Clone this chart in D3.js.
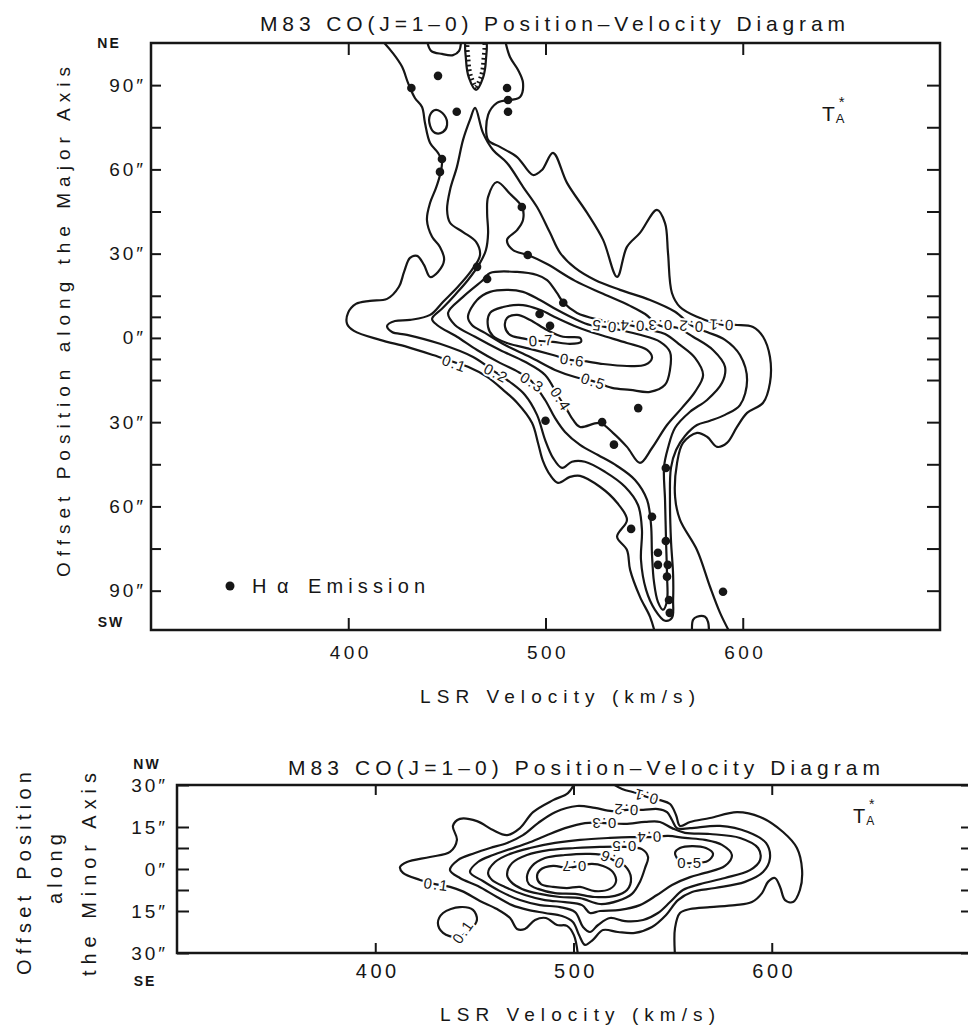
<!DOCTYPE html>
<html>
<head>
<meta charset="utf-8">
<title>M83 CO(J=1-0) Position-Velocity Diagram</title>
<script src="https://cdn.jsdelivr.net/npm/d3@7"></script>
<style>
  html, body { margin: 0; padding: 0; background: #fff; }
  svg { display: block; }
  text { font-family: "Liberation Sans", Arial, Helvetica, sans-serif; fill: #161616; }
</style>
</head>
<body>
<svg id="chart" width="968" height="1029"></svg>
<script>
(function (d3) {
    "use strict";

    // ---------- top panel: along the major axis (velocity km/s, offset arcsec) ----------
    var velTicks = [400, 500, 600],
        majorOffTicks = [90, 75, 60, 45, 30, 15, 7.5, 0, -7.5, -15, -30, -45, -60, -75, -90],
        majorOffLabels = [90, 60, 30, 0, -30, -60, -90];

    // T_A* = 0.1 contour, left / lower edge and right edge (both run off the frame)
    var major01a = [[417,106],[422.5,101.5],[427.3,96.5],[430.3,90.8],[433.8,85.4],[437.4,82.2],[438.9,76.5],[441.5,69.4],[445.5,65.9],[447.5,62.7],[446.5,58],[444.5,53.4],[441.5,48.1],[439.9,42],[442.5,36],[446.5,32.4],[448.6,27.8],[445.5,23.5],[441.5,21.7],[438.4,26],[434.9,29.2],[431.3,28.5],[428.3,23.5],[425.7,18.2],[419.7,13.9],[411,13.2],[403.9,12.1],[399.9,8.9],[399.4,5],[402.9,2.5],[416.1,-0.7],[429.8,-3.2],[443,-6.1],[453.1,-8.5],[460.7,-10.3],[470.4,-13.9],[478.5,-18.5],[485.6,-23.1],[493.2,-30.3],[496.2,-37.4],[498.7,-43.8],[502.3,-48.8],[506.3,-51.6],[512.4,-49.5],[517.5,-49.1],[527.6,-53],[536.3,-58.7],[541.3,-64.8],[536.3,-70.8],[541.3,-75.5],[542.9,-82.6],[547.9,-92.2],[553,-99.3],[555.5,-105]];
    var major01b = [[479.5,106],[482,100],[486.1,95.4],[488.6,90.8],[487.1,85.8],[475.4,83.7],[470.9,79.4],[470.9,70.5],[476.9,68],[485.6,64.4],[493.7,58],[498.2,59.8],[503.8,65.9],[510.9,55.2],[521.1,44.5],[529.2,34.9],[536.3,21.7],[541.3,32.4],[547.9,37.4],[556.5,45.6],[560.6,40.9],[562.1,30.3],[564.1,16],[568.2,11],[576.8,7.5],[590,4.6],[597.1,4.6],[605.2,3.9],[610.3,0.4],[613.8,-6.8],[613.8,-16],[610.3,-23.1],[602.2,-26.7],[597.1,-31.7],[592,-37.4],[587,-38.8],[581.9,-35.2],[576.8,-33.8],[569.7,-37.4],[566.7,-44.5],[565.7,-56.6],[568.2,-64.8],[576.8,-75.5],[583.4,-88.6],[588.5,-97.9],[593.5,-105]];
    var major01c = [[439.9,106],[442,102.2],[447.5,101.1],[453.1,100.7],[456.2,102.2],[457.2,106]];
    var major01d = [[444.5,81.2],[448.6,79.4],[450.1,75.8],[448,73.3],[444,73],[441.5,75.5],[441.5,79.4]];
    var major01e = [[574.3,-105],[574.8,-100.4],[576.8,-99.3],[580.9,-99.3],[582.4,-101.1],[582.9,-105]];
    var majorHole = [[460.2,107],[459.7,99],[461.2,92.6],[464.8,88.3],[468.3,92.6],[469.8,99],[469.3,107]];
    var major02 = [[464.3,81.9],[461.7,77.6],[458.2,70.5],[455.1,60.9],[451.6,52.7],[450.1,45.6],[451.6,41],[458.2,37.7],[464.8,34.2],[466.8,29.5],[462.7,24.2],[455.6,18.2],[448,12.8],[441.5,8.2],[431.3,6.4],[423.7,6],[419.7,4.3],[422.2,2.1],[429.8,1.1],[446.5,-2.1],[463.3,-6.8],[474.4,-12.1],[482,-15.7],[489.6,-20.3],[495.7,-27.4],[499.8,-36.3],[503.8,-42.7],[508.4,-46.3],[513.4,-44.1],[520,-44.1],[530.2,-47.7],[540.3,-53],[546.9,-59.5],[548.9,-68.4],[548.4,-79],[551,-89.7],[555.5,-96.8],[560.6,-100.7],[564.1,-99.7],[564.7,-93.3],[564.7,-84.4],[563.6,-71.9],[563.1,-57.7],[563.6,-46.3],[566.2,-39.9],[570.7,-34.9],[576.8,-31],[583.4,-29.5],[591,-27.4],[598.6,-23.9],[602.2,-15],[598.6,-6.1],[591,-0.7],[581.9,2.1],[574.3,4.3],[565.7,9.3],[553,13.5],[537.8,17.1],[525.1,20.6],[515,24.9],[507.4,30.3],[502.3,37.4],[495.7,46.6],[488.6,53.8],[480.5,62.3],[473.4,66.9],[468.3,73]];
    var major03 = [[442.5,6.8],[445,4.6],[455.1,0.4],[465.3,-4.3],[476.9,-8.9],[486.1,-12.1],[492.2,-14.9],[499.8,-22.1],[504.8,-28.5],[509.9,-33.5],[517.5,-38.1],[526.6,-41.7],[536.3,-45.6],[545.4,-50.6],[551.5,-57.7],[553.5,-66.6],[554,-77.3],[555,-86.9],[557,-94],[559.6,-96.8],[561.6,-93.6],[561.6,-84.4],[561.1,-71.9],[560.6,-57.7],[560.1,-45.9],[562.1,-39.2],[565.7,-32],[573.3,-26.3],[581.9,-22.1],[589.5,-16],[591,-10.3],[584.9,-4.3],[574.8,0.4],[566.7,3.6],[558.1,4.3],[550.5,8.5],[542.9,11.4],[529.2,15.7],[515,20.3],[500.8,26.3],[491.1,29.5],[483.5,31.3],[480.5,34.9],[485.6,38.4],[488.6,42],[488.1,46.6],[482,51.3],[475.4,55.5],[470.9,50.2],[470.4,44.5],[470.9,37.4],[469.8,31.3],[466.8,26.7],[460.7,20.6],[454.1,15.3],[448,10.7]];
    var major04 = [[450.6,8.9],[458.2,14.6],[468.3,20.6],[471.9,23.1],[485.6,23.5],[495.7,22.4],[500.8,20.6],[505.8,16],[508.9,12.8],[516,8.9],[527.6,6.4],[537.8,5],[544.4,4.3],[553,2.8],[560.6,1.4],[568.2,-2.5],[575.8,-7.1],[579.9,-13.2],[575.8,-19.2],[569.2,-24.9],[561.6,-31],[554,-39.2],[547.9,-44.5],[541.3,-38.8],[534.2,-33.8],[527.6,-30.3],[517.5,-31.7],[514,-29.2],[510.9,-25.6],[506.3,-20.6],[499.8,-13.2],[489.6,-8.5],[476.9,-4.3],[464.3,0.4],[454.1,4.6]];
    var major05 = [[460.7,7.5],[465.3,13.5],[471.9,16.4],[480.5,17.1],[488.6,16.4],[497.2,13.5],[505.8,10],[516,6.4],[522.6,4.6],[530.2,3.9],[537.8,2.8],[547.9,1.1],[558.1,-1.4],[563.1,-5],[563.1,-11.4],[560.6,-16.7],[553,-19.2],[542.9,-18.5],[533.7,-17.8],[523.6,-15.3],[515,-13.9],[504.8,-11.4],[492.2,-6.8],[479.5,-2.5],[469.3,1.8],[462.7,4.6]];
    var major06 = [[470.9,3.9],[471.9,8.9],[478.5,11],[488.6,11.7],[497.2,10],[505.8,7.1],[516,3.9],[527.6,1.1],[541.3,-1.8],[551.5,-4.3],[554,-7.1],[550.5,-9.6],[541.3,-10],[529.2,-9.3],[519,-8.2],[512.4,-7.8],[503.8,-6.1],[492.2,-3.9],[480.5,-1.8],[473.4,0.7]];
    var major07 = [[479.5,3.9],[480.5,7.1],[485.6,8.2],[492.2,6.4],[500.8,2.8],[508.9,0.4],[517.5,0],[518,-1.4],[512.4,-2.1],[503.8,-1.4],[497.2,-1.1],[487.1,0],[482,1.1]];

    // contour labels: text, velocity, offset, angle
    var majorLabels = [["0.1",453.1,-8.9,20],["0.2",474.4,-12.3,28],["0.3",492.7,-15.5,33],["0.4",507.4,-21.4,58],
        ["0.5",530.2,4.1,186],["0.4",544.4,4.3,182],["0.3",558.6,4.3,180],["0.2",574.3,4.1,184],["0.1",589.5,4.6,182],
        ["0.5",523.6,-15.3,18],["0.6",512.9,-7.8,8],["0.7",497.2,-0.9,-3]];

    // H-alpha emission positions
    var halpha = [[432,89],[445.5,93.3],[455,80.5],[480.5,89],[481,84.7],[481,80.5],[447.5,63.7],[446.5,59.1],[488,46.6],[491,29.5],[465.3,25.3],[470.4,21],[509,12.5],[497,8.5],[502.3,4.3],[500,-29.5],[547,-25],[528.7,-30],[534.7,-38],[561,-46.3],[554,-63.7],[543.4,-68],[561,-72.3],[557,-76.5],[557,-80.8],[562,-80.8],[561.6,-85],[562.6,-93.3],[563,-97.9],[590,-90.4]];

    // ---------- bottom panel: along the minor axis ----------
    var minorOffTicks = [30, 15, 7.5, 0, -7.5, -15, -30],
        minorOffLabels = [30, 15, 0, -15, -30];

    var minor01a = [[502.3,-31],[500.2,-23.6],[496.7,-20.3],[491.7,-20],[486.1,-17.5],[480.6,-18.2],[475.5,-21.4],[471.5,-21.4],[468,-17.5],[461.4,-14.3],[452.8,-11.4],[443.8,-7.9],[437.7,-6.4],[430.1,-5.4],[422.6,-3.9],[414,-1.4],[412.5,0.7],[416,2.5],[427.6,4.3],[437.7,6.1],[441.2,10.4],[439.2,15.4],[442.7,17.9],[451.3,17.1],[459.4,13.9],[466.5,12.1],[473,14.6],[479.6,20.3],[489.7,24.6],[497.2,27.1],[500.8,31]];
    var minor01b = [[518.4,31],[524.5,28.6],[532,27.1],[537.1,25.7],[543.6,24.6],[548.7,23.2],[551.7,19.3],[553.7,15.4],[558.8,16.8],[568.8,18.2],[582.5,20.3],[594.1,18.6],[605.7,13.2],[612.7,7.5],[615.3,-0.4],[614.2,-7.5],[610.7,-11.8],[606.7,-11.1],[604.2,-6.4],[601.6,-3.2],[598.1,-4.6],[595.1,-8.6],[590,-11.8],[581.5,-12.9],[568.8,-13.6],[558.8,-14.3],[553.7,-15.7],[551.2,-21.1],[551.2,-31]];
    var minor01c = [[434.2,-15.7],[442.7,-13.6],[449.3,-14.6],[451.3,-18.2],[447.8,-21.8],[441.2,-24.3],[434.2,-22.8],[431.6,-19.3]];
    var minor02 = [[437.7,-0.4],[441.7,3.2],[450.3,5.7],[457.9,7.5],[466.5,9.3],[474.5,12.1],[482.1,16.4],[490.7,20.3],[501.8,22.5],[510.8,21.8],[519.4,20.7],[527,21.1],[535.1,21.1],[542.6,21.4],[547.2,20.3],[549.7,17.5],[552.2,14.6],[558.8,14.6],[573.9,15.4],[588,13.2],[597.1,9.3],[599.1,3.9],[595.6,-1.1],[586.5,-4.6],[571.4,-6.8],[559.8,-8.2],[552.7,-11.1],[546.7,-16.4],[539.6,-20.7],[531,-22.8],[522.4,-22.5],[514.9,-21.8],[509.8,-25.3],[505.8,-27.1],[502.8,-23.6],[499.7,-18.9],[494.2,-16.8],[485.6,-15.7],[477,-14.6],[469,-12.9],[461.4,-10],[451.8,-6.1],[442.7,-3.2]];
    var minor03 = [[447.8,-1.1],[451.8,2.5],[459.4,5],[468,7.1],[477,9.3],[485.6,11.8],[495.7,14.6],[505.8,16.4],[515.9,16.4],[526,16.1],[536.1,16.8],[543.6,16.8],[549.7,14.6],[556.2,12.9],[568.8,12.5],[584,11.1],[593.1,7.5],[594.1,3.2],[589,-0.4],[576.4,-3.2],[563.8,-5.4],[555.2,-7.5],[548.7,-11.8],[542.6,-15.7],[535.1,-18.2],[526,-18.6],[518.4,-17.5],[512.4,-20],[508.3,-22.5],[504.8,-20.7],[500.8,-15.4],[493.2,-13.6],[483.1,-12.9],[473,-11.1],[462.9,-7.9],[454.3,-4.3]];
    var minor04 = [[456.9,-1.4],[460.4,2.5],[468,5.4],[478.1,7.5],[490.7,9.3],[503.3,10.4],[518.4,11.1],[528.5,11.4],[538.6,11.4],[547.7,11.8],[556.2,11.1],[566.3,10.4],[574.9,8.6],[579.9,5],[576.4,1.1],[566.3,-1.4],[558.8,-2.9],[549.7,-5.7],[542.1,-9.3],[533.5,-12.9],[523.5,-14.6],[513.4,-15],[508.3,-15.7],[504.3,-12.9],[495.7,-11.8],[485.6,-11.1],[475.5,-9.3],[465.4,-6.4],[458.9,-3.9]];
    var minor05 = [[466.5,-2.1],[469,2.1],[476.5,5],[488.1,6.8],[500.8,7.5],[513.4,7.9],[526,7.9],[534.5,7.1],[537.6,4.3],[536.1,0.4],[533.5,-4.6],[529.5,-8.9],[522.4,-11.4],[513.4,-12.5],[503.3,-10.4],[493.2,-10],[483.1,-8.9],[474,-7.1],[468.5,-4.6]];
    var minor05b = [[551.2,5.7],[553.7,7.5],[559.8,8.2],[566.8,7.5],[570.4,5.4],[567.8,2.9],[561.3,2.1],[554.2,2.5]];
    var minor06 = [[476.5,-2.9],[479.1,1.1],[485.6,3.9],[495.7,5],[508.3,5.4],[516.9,4.6],[519.9,3.2],[526,1.1],[529,-3.2],[527,-7.5],[520.9,-9.6],[510.8,-10],[500.8,-8.9],[490.7,-8.6],[482.1,-7.1],[477.5,-5.4]];
    var minor07 = [[481.6,-2.9],[483.1,-0.4],[489.7,1.1],[496.7,0.4],[503.3,1.1],[509.3,1.8],[514.9,1.1],[519.9,-1.1],[521.4,-4.6],[518.4,-7.1],[510.8,-7.9],[503.3,-6.4],[496.7,-6.8],[489.7,-6.4],[483.6,-5.4]];

    var minorLabels = [["0.1",430.1,-5.4,8],["0.1",537.1,25.7,195],["0.2",527,21.1,183],["0.3",515.9,16.4,180],
        ["0.4",538.6,11.4,178],["0.5",526,7.9,180],["0.6",519.9,3.2,205],["0.7",500.8,1.1,180],
        ["0.5",558,2.4,0],["0.1",443.8,-22.8,-55]];

    var svg = d3.select("#chart"),
        defs = svg.append("defs"),
        ink = "#161616";

    function lineFor(x, y, closed) {
        return d3.line()
            .x(function (d) { return x(d[0]); })
            .y(function (d) { return y(d[1]); })
            .curve(closed ? d3.curveCatmullRomClosed : d3.curveCatmullRom);
    }

    function styleTicks(sel) {
        sel.select(".domain").remove();
        sel.selectAll(".tick line").attr("stroke", ink).attr("stroke-width", 2);
    }

    function styleLabels(sel, size, spacing) {
        sel.select(".domain").remove();
        sel.attr("font-family", null).attr("font-size", null);
        sel.selectAll(".tick text").style("font-size", size + "px").style("letter-spacing", spacing + "px").attr("fill", ink);
    }

    function drawPanel(p) {
        var x = p.x, y = p.y,
            left = x.range()[0], right = x.range()[1],
            bottom = y.range()[0], top = y.range()[1],
            g = svg.append("g"),
            clipId = p.name + "-clip";

        defs.append("clipPath").attr("id", clipId).append("rect")
            .attr("x", left).attr("y", top).attr("width", right - left).attr("height", bottom - top);

        var plot = g.append("g").attr("clip-path", "url(#" + clipId + ")");

        p.contours.forEach(function (c) {
            plot.append("path")
                .attr("d", lineFor(x, y, c.closed)(c.pts))
                .attr("fill", "none").attr("stroke", ink)
                .attr("stroke-width", 2.2).attr("stroke-linejoin", "round");
        });

        if (p.hole) {
            var holePath = lineFor(x, y, true)(p.hole);
            defs.append("clipPath").attr("id", p.name + "-hole").append("path").attr("d", holePath);
            plot.append("path").attr("d", holePath).attr("clip-path", "url(#" + p.name + "-hole)")
                .attr("fill", "none").attr("stroke", ink).attr("stroke-width", 9).attr("stroke-dasharray", "1.8 3.2");
            plot.append("path").attr("d", holePath).attr("fill", "none").attr("stroke", ink).attr("stroke-width", 2.2);
        }

        if (p.dots) {
            plot.selectAll("circle.ha").data(p.dots).enter().append("circle")
                .attr("class", "ha")
                .attr("cx", function (d) { return x(d[0]); })
                .attr("cy", function (d) { return y(d[1]); })
                .attr("r", 4.3).attr("fill", ink);
        }

        // contour level labels, with a white halo that breaks the line
        plot.selectAll("text.lvl").data(p.labels).enter().append("text")
            .attr("class", "lvl")
            .attr("transform", function (d) { return "translate(" + x(d[1]) + "," + y(d[2]) + ") rotate(" + d[3] + ")"; })
            .attr("text-anchor", "middle").attr("dy", "0.36em").attr("dx", "0.1em")
            .style("font-size", "15px").style("letter-spacing", "1.5px")
            .attr("stroke", "#fff").attr("stroke-width", 4).attr("paint-order", "stroke")
            .text(function (d) { return d[0]; });

        // frame
        g.append("rect").attr("x", left).attr("y", top).attr("width", right - left).attr("height", bottom - top)
            .attr("fill", "none").attr("stroke", ink).attr("stroke-width", 2.5);

        // inward ticks
        g.append("g").attr("transform", "translate(" + left + ",0)")
            .call(d3.axisRight(y).tickValues(p.offTicks).tickSize(p.tickLeft).tickFormat("")).call(styleTicks);
        g.append("g").attr("transform", "translate(" + right + ",0)")
            .call(d3.axisLeft(y).tickValues(p.offTicks).tickSize(p.tickRight).tickFormat("")).call(styleTicks);
        g.append("g").attr("transform", "translate(0," + top + ")")
            .call(d3.axisBottom(x).tickValues(velTicks).tickSize(p.tickTop).tickFormat("")).call(styleTicks);
        g.append("g").attr("transform", "translate(0," + bottom + ")")
            .call(d3.axisTop(x).tickValues(velTicks).tickSize(p.tickTop).tickFormat("")).call(styleTicks);

        // tick labels
        g.append("g").attr("transform", "translate(" + left + ",0)")
            .call(d3.axisLeft(y).tickValues(p.offLabels).tickSize(0).tickPadding(p.padY)
                .tickFormat(function (d) { return Math.abs(d) + "\u2033"; }))
            .call(styleLabels, p.fontY, 3);
        g.append("g").attr("transform", "translate(0," + bottom + ")")
            .call(d3.axisBottom(x).tickValues(velTicks).tickSize(0).tickPadding(p.padX).tickFormat(d3.format("d")))
            .call(styleLabels, p.fontX, 3.5)
            .selectAll(".tick text").attr("dx", "2");
    }

    var xMajor = d3.scaleLinear().domain([300, 700]).range([151, 940]),
        yMajor = d3.scaleLinear().domain([-104, 105]).range([630, 43]),
        xMinor = d3.scaleLinear().domain([300, 700]).range([177, 970]),
        yMinor = d3.scaleLinear().domain([-30, 30]).range([953, 785]);

    drawPanel({
        name: "major", x: xMajor, y: yMajor,
        contours: [
            {pts: major01a}, {pts: major01b}, {pts: major01c}, {pts: major01d, closed: true}, {pts: major01e},
            {pts: major02, closed: true}, {pts: major03, closed: true}, {pts: major04, closed: true},
            {pts: major05, closed: true}, {pts: major06, closed: true}, {pts: major07, closed: true}
        ],
        hole: majorHole, dots: halpha, labels: majorLabels,
        offTicks: majorOffTicks, offLabels: majorOffLabels,
        tickLeft: 10, tickRight: 13, tickTop: 12, padY: 5, padX: 16, fontY: 19, fontX: 19
    });

    drawPanel({
        name: "minor", x: xMinor, y: yMinor,
        contours: [
            {pts: minor01a}, {pts: minor01b}, {pts: minor01c, closed: true},
            {pts: minor02, closed: true}, {pts: minor03, closed: true}, {pts: minor04, closed: true},
            {pts: minor05, closed: true}, {pts: minor05b, closed: true}, {pts: minor06, closed: true}, {pts: minor07, closed: true}
        ],
        labels: minorLabels,
        offTicks: minorOffTicks, offLabels: minorOffLabels,
        tickLeft: 12, tickRight: 9, tickTop: 10, padY: 9, padX: 11, fontY: 19, fontX: 20
    });

    // ---------- titles and annotations ----------
    function txt(str, x, y, size, opts) {
        var t = svg.append("text").attr("x", x).attr("y", y).style("font-size", size + "px").text(str);
        opts = opts || {};
        if (opts.len) t.attr("textLength", opts.len).attr("lengthAdjust", "spacing");
        if (opts.anchor) t.attr("text-anchor", opts.anchor);
        if (opts.bold) t.style("font-weight", "bold");
        if (opts.spacing) t.style("letter-spacing", opts.spacing + "px");
        if (opts.rotate) t.attr("transform", "rotate(" + opts.rotate + "," + x + "," + y + ")");
        return t;
    }

    // T with subscript A, and the star set above the A
    function antennaTemp(x, y, size) {
        var t = svg.append("text").attr("x", x).attr("y", y).style("font-size", size + "px").text("T");
        t.append("tspan").attr("dx", 1).attr("dy", 2).style("font-size", Math.round(size * 0.62) + "px").text("A");
        svg.append("text").attr("x", x + size * 0.8).attr("y", y - size * 0.68)
            .style("font-size", Math.round(size * 0.7) + "px").text("*");
    }

    txt("M83 CO(J=1\u20130) Position\u2013Velocity Diagram", 260, 31, 21, {len: 585});
    txt("M83 CO(J=1\u20130) Position\u2013Velocity Diagram", 288, 775, 21, {len: 592});

    txt("LSR Velocity (km/s)", 420, 703, 19, {len: 275});
    txt("LSR Velocity (km/s)", 440, 1021, 19, {len: 275});

    txt("Offset Position along the Major Axis", 70, 577, 19, {len: 510, rotate: -90});
    txt("Offset Position", 31, 975, 20, {len: 203, rotate: -90});
    txt("along", 62, 904, 20, {len: 70, rotate: -90});
    txt("the Minor Axis", 96, 976, 20, {len: 203, rotate: -90});

    txt("NE", 109, 48, 14, {anchor: "middle", bold: true, spacing: 2});
    txt("SW", 111, 627, 14, {anchor: "middle", bold: true, spacing: 2});
    txt("NW", 147, 769, 14, {anchor: "middle", bold: true, spacing: 2});
    txt("SE", 145, 986, 14, {anchor: "middle", bold: true, spacing: 2});

    antennaTemp(822, 121, 21);
    antennaTemp(853, 823, 20);

    // H-alpha legend
    svg.append("circle").attr("cx", 230).attr("cy", 586).attr("r", 4.5).attr("fill", ink);
    txt("H", 252, 593, 20);
    txt("\u03b1", 277, 593, 20);
    txt("Emission", 308, 593, 20, {len: 117});

}(d3));
</script>
</body>
</html>
